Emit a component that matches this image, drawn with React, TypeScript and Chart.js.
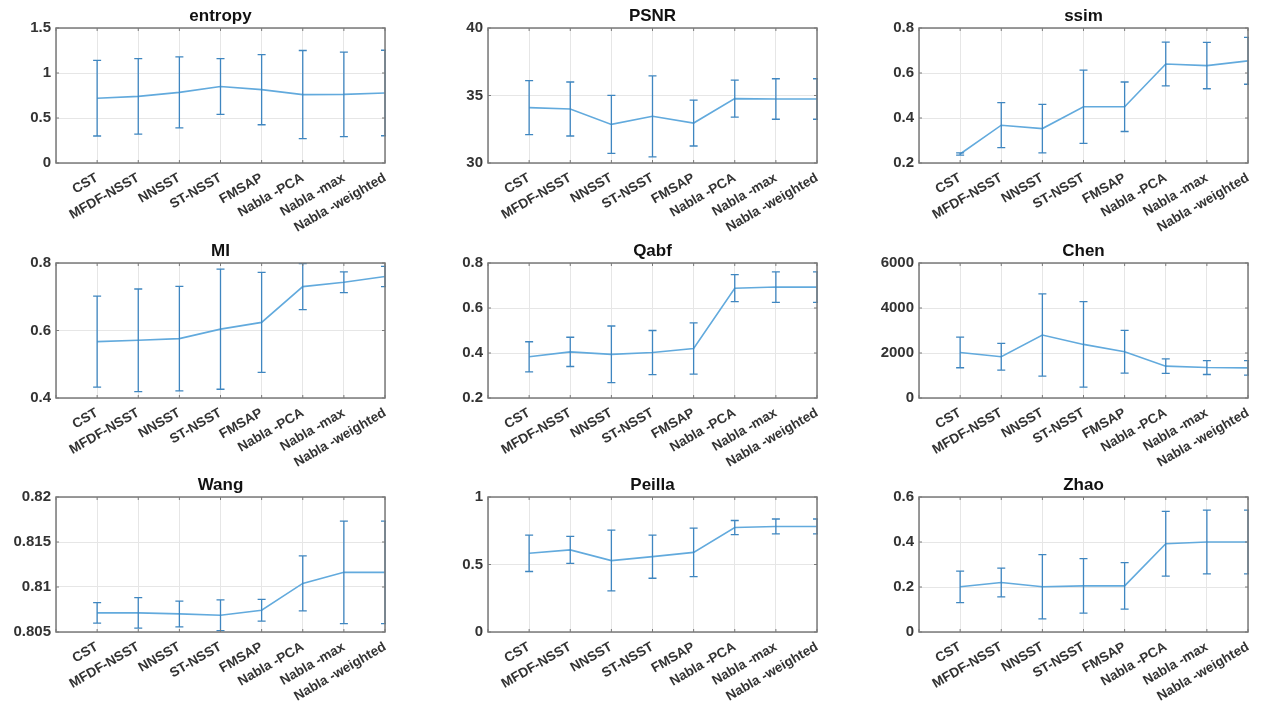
import React, { useEffect, useRef } from 'react';
import { Chart, registerables } from 'chart.js';

Chart.register(...registerables);

// ---------- data ----------
const categories = ['CST', 'MFDF-NSST', 'NNSST', 'ST-NSST', 'FMSAP', 'Nabla -PCA', 'Nabla -max', 'Nabla -weighted'];

const entropyMean = [0.72, 0.74, 0.785, 0.85, 0.815, 0.76, 0.763, 0.778];
const entropyErr = [0.42, 0.42, 0.395, 0.31, 0.39, 0.49, 0.47, 0.475];
const entropyTicks = [0, 0.5, 1, 1.5];
const entropyTickLabels = ['0', '0.5', '1', '1.5'];

const psnrMean = [34.1, 34.0, 32.86, 33.46, 32.96, 34.77, 34.74, 34.74];
const psnrErr = [2.0, 2.0, 2.15, 3.0, 1.7, 1.37, 1.5, 1.5];
const psnrTicks = [30, 35, 40];
const psnrTickLabels = ['30', '35', '40'];

const ssimMean = [0.24, 0.368, 0.353, 0.45, 0.45, 0.64, 0.633, 0.654];
const ssimErr = [0.005, 0.1, 0.108, 0.163, 0.11, 0.097, 0.103, 0.104];
const ssimTicks = [0.2, 0.4, 0.6, 0.8];
const ssimTickLabels = ['0.2', '0.4', '0.6', '0.8'];

const miMean = [0.567, 0.571, 0.576, 0.604, 0.624, 0.73, 0.743, 0.76];
const miErr = [0.135, 0.152, 0.155, 0.178, 0.148, 0.068, 0.031, 0.03];
const miTicks = [0.4, 0.6, 0.8];
const miTickLabels = ['0.4', '0.6', '0.8'];

const qabfMean = [0.383, 0.405, 0.394, 0.402, 0.42, 0.688, 0.693, 0.693];
const qabfErr = [0.067, 0.065, 0.126, 0.098, 0.114, 0.06, 0.068, 0.068];
const qabfTicks = [0.2, 0.4, 0.6, 0.8];
const qabfTickLabels = ['0.2', '0.4', '0.6', '0.8'];

const chenMean = [2025, 1831, 2800, 2382, 2055, 1415, 1355, 1340];
const chenErr = [680, 595, 1830, 1900, 950, 320, 310, 320];
const chenTicks = [0, 2000, 4000, 6000];
const chenTickLabels = ['0', '2000', '4000', '6000'];

const wangMean = [0.80712, 0.80712, 0.80701, 0.80686, 0.80742, 0.8104, 0.81163, 0.81163];
const wangErr = [0.00114, 0.0017, 0.00143, 0.0017, 0.00121, 0.00305, 0.0057, 0.0057];
const wangTicks = [0.805, 0.81, 0.815, 0.82];
const wangTickLabels = ['0.805', '0.81', '0.815', '0.82'];

const peillaMean = [0.583, 0.608, 0.529, 0.558, 0.59, 0.774, 0.782, 0.782];
const peillaErr = [0.135, 0.1, 0.225, 0.16, 0.18, 0.052, 0.055, 0.055];
const peillaTicks = [0, 0.5, 1];
const peillaTickLabels = ['0', '0.5', '1'];

const zhaoMean = [0.201, 0.22, 0.201, 0.205, 0.205, 0.392, 0.4, 0.4];
const zhaoErr = [0.07, 0.064, 0.143, 0.121, 0.103, 0.144, 0.142, 0.142];
const zhaoTicks = [0, 0.2, 0.4, 0.6];
const zhaoTickLabels = ['0', '0.2', '0.4', '0.6'];

// ---------- layout ----------
const FONT = "'Liberation Sans', Arial, Helvetica, sans-serif";
const PLOT_W = 329;
const PLOT_H = 135;
const Y_AXIS_W = 55;
const X_AXIS_H = 80;
const PAD_TOP = 28;
const PAD_RIGHT = 14;
const colLefts = [56, 488, 919];
const rowTops = [28, 263, 497];

const LINE_COLOR = '#62aadd';
const BAR_COLOR = '#3f86c0';
const GRID_COLOR = '#e6e6e6';
const BOX_COLOR = '#7a7a7a';
const TEXT_COLOR = '#333333';

type PanelDef = {
  title: string;
  mean: number[];
  err: number[];
  ticks: number[];
  tickLabels: string[];
  col: number;
  row: number;
};

const panels: PanelDef[] = [
  { title: 'entropy', mean: entropyMean, err: entropyErr, ticks: entropyTicks, tickLabels: entropyTickLabels, col: 0, row: 0 },
  { title: 'PSNR', mean: psnrMean, err: psnrErr, ticks: psnrTicks, tickLabels: psnrTickLabels, col: 1, row: 0 },
  { title: 'ssim', mean: ssimMean, err: ssimErr, ticks: ssimTicks, tickLabels: ssimTickLabels, col: 2, row: 0 },
  { title: 'MI', mean: miMean, err: miErr, ticks: miTicks, tickLabels: miTickLabels, col: 0, row: 1 },
  { title: 'Qabf', mean: qabfMean, err: qabfErr, ticks: qabfTicks, tickLabels: qabfTickLabels, col: 1, row: 1 },
  { title: 'Chen', mean: chenMean, err: chenErr, ticks: chenTicks, tickLabels: chenTickLabels, col: 2, row: 1 },
  { title: 'Wang', mean: wangMean, err: wangErr, ticks: wangTicks, tickLabels: wangTickLabels, col: 0, row: 2 },
  { title: 'Peilla', mean: peillaMean, err: peillaErr, ticks: peillaTicks, tickLabels: peillaTickLabels, col: 1, row: 2 },
  { title: 'Zhao', mean: zhaoMean, err: zhaoErr, ticks: zhaoTicks, tickLabels: zhaoTickLabels, col: 2, row: 2 },
];

function Panel({ p }: { p: PanelDef }) {
  const ref = useRef<HTMLCanvasElement | null>(null);
  const W = Y_AXIS_W + PLOT_W + PAD_RIGHT;
  const H = PAD_TOP + PLOT_H + X_AXIS_H;
  const left = colLefts[p.col] - Y_AXIS_W;
  const top = rowTops[p.row] - PAD_TOP;

  useEffect(() => {
    if (!ref.current) return;
    const xTickValues = [0, ...categories.map((_, i) => i + 1)];

    const errorBars = {
      id: 'errorBars',
      afterDatasetsDraw(chart: any) {
        const ctx = chart.ctx;
        const xs = chart.scales.x;
        const ys = chart.scales.y;
        const a = chart.chartArea;
        ctx.save();
        ctx.beginPath();
        ctx.rect(a.left, a.top - 1, a.right - a.left + 1, a.bottom - a.top + 2);
        ctx.clip();
        ctx.strokeStyle = BAR_COLOR;
        ctx.lineWidth = 1.3;
        p.mean.forEach((m, i) => {
          const x = xs.getPixelForValue(i + 1);
          const yT = ys.getPixelForValue(m + p.err[i]);
          const yB = ys.getPixelForValue(m - p.err[i]);
          const cap = 4;
          ctx.beginPath();
          ctx.moveTo(x, yT);
          ctx.lineTo(x, yB);
          ctx.moveTo(x - cap, yT);
          ctx.lineTo(x + cap, yT);
          ctx.moveTo(x - cap, yB);
          ctx.lineTo(x + cap, yB);
          ctx.stroke();
        });
        ctx.restore();
      },
    };

    const boxAndTitle = {
      id: 'boxAndTitle',
      afterDraw(chart: any) {
        const ctx = chart.ctx;
        const a = chart.chartArea;
        const xs = chart.scales.x;
        const ys = chart.scales.y;
        ctx.save();
        ctx.strokeStyle = BOX_COLOR;
        ctx.lineWidth = 1.5;
        ctx.strokeRect(a.left, a.top, a.right - a.left, a.bottom - a.top);
        ctx.lineWidth = 1;
        ctx.beginPath();
        xTickValues.forEach((v) => {
          const x = xs.getPixelForValue(v);
          ctx.moveTo(x, a.bottom);
          ctx.lineTo(x, a.bottom - 3);
          ctx.moveTo(x, a.top);
          ctx.lineTo(x, a.top + 3);
        });
        p.ticks.forEach((v) => {
          const y = ys.getPixelForValue(v);
          ctx.moveTo(a.left, y);
          ctx.lineTo(a.left + 3, y);
          ctx.moveTo(a.right, y);
          ctx.lineTo(a.right - 3, y);
        });
        ctx.stroke();
        ctx.fillStyle = '#111';
        ctx.font = `bold 17px ${FONT}`;
        ctx.textAlign = 'center';
        ctx.textBaseline = 'alphabetic';
        ctx.fillText(p.title, (a.left + a.right) / 2, a.top - 7);
        ctx.restore();
      },
    };

    const chart = new Chart(ref.current, {
      type: 'line',
      data: {
        datasets: [
          {
            data: p.mean.map((y, i) => ({ x: i + 1, y })),
            borderColor: LINE_COLOR,
            borderWidth: 1.6,
            pointRadius: 0,
            tension: 0,
            fill: false,
          },
        ],
      },
      options: {
        animation: false,
        responsive: false,
        devicePixelRatio: 1,
        layout: { padding: { top: PAD_TOP, right: PAD_RIGHT, left: 0, bottom: 0 } },
        plugins: {
          legend: { display: false },
          tooltip: { enabled: false },
          title: { display: false },
        },
        scales: {
          x: {
            type: 'linear',
            min: 0,
            max: 8,
            afterBuildTicks: (s: any) => {
              s.ticks = xTickValues.map((v) => ({ value: v }));
            },
            afterFit: (s: any) => {
              s.height = X_AXIS_H;
              s.paddingLeft = 0;
              s.paddingRight = 0;
            },
            grid: { color: GRID_COLOR, drawTicks: false, lineWidth: 1 },
            border: { display: false },
            ticks: {
              autoSkip: false,
              minRotation: 30,
              maxRotation: 30,
              padding: 7,
              color: TEXT_COLOR,
              font: { family: FONT, size: 13.5, weight: 'bold' },
              callback: (v: any) => categories[Number(v) - 1] ?? '',
            },
          },
          y: {
            type: 'linear',
            min: p.ticks[0],
            max: p.ticks[p.ticks.length - 1],
            afterBuildTicks: (s: any) => {
              s.ticks = p.ticks.map((v) => ({ value: v }));
            },
            afterFit: (s: any) => {
              s.width = Y_AXIS_W;
              s.paddingTop = 0;
              s.paddingBottom = 0;
            },
            grid: { color: GRID_COLOR, drawTicks: false, lineWidth: 1 },
            border: { display: false },
            ticks: {
              padding: 5,
              color: TEXT_COLOR,
              font: { family: FONT, size: 15, weight: 'bold' },
              callback: (_v: any, i: number) => p.tickLabels[i],
            },
          },
        },
      },
      plugins: [errorBars, boxAndTitle],
    } as any);
    return () => chart.destroy();
  }, []);

  return (
    <canvas
      ref={ref}
      width={W}
      height={H}
      style={{ position: 'absolute', left, top, width: W, height: H }}
    />
  );
}

export default function App() {
  return (
    <div style={{ position: 'absolute', left: 0, top: 0, width: 1270, height: 707, background: '#fff', overflow: 'hidden' }}>
      {panels.map((p) => (
        <Panel key={p.title} p={p} />
      ))}
    </div>
  );
}
